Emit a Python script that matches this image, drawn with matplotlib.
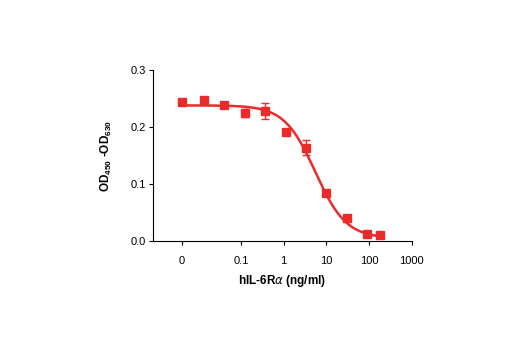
import numpy as np
import matplotlib
matplotlib.use("Agg")
import matplotlib.pyplot as plt

plt.rcParams['font.family'] = ['Liberation Sans Narrow', 'Liberation Sans', 'DejaVu Sans']

# data; 0 ng/ml is plotted at the "0" tick of the log axis
zero_pos = 0.0042
conc = [0, 0.0137, 0.041, 0.123, 0.37, 1.11, 3.33, 10, 30, 90, 180]
od = [0.244, 0.248, 0.238, 0.224, 0.228, 0.192, 0.164, 0.084, 0.040, 0.013, 0.011]
err = [0.005, 0.005, 0.002, 0.007, 0.014, 0.005, 0.013, 0.003, 0.006, 0.002, 0.002]

# four parameter logistic fit
top, bottom, ec50, hill = 0.238, 0.005, 5.5, 1.2

xticks = [zero_pos, 0.1, 1, 10, 100, 1000]
xticklabels = ["0", "0.1", "1", "10", "100", "1000"]
yticks = [0.0, 0.1, 0.2, 0.3]

red = "#ec2a2a"

fig = plt.figure(figsize=(5.2, 3.5), dpi=100)
ax = fig.add_axes([0.294, 0.311, 0.498, 0.489])

x = np.array([zero_pos if c == 0 else c for c in conc])
xs = np.logspace(np.log10(zero_pos), np.log10(conc[-1]), 300)
ys = bottom + (top - bottom) / (1 + (xs / ec50) ** hill)
ax.plot(xs, ys, color=red, lw=1.8, zorder=2)
ax.errorbar(x, od, yerr=err, fmt="s", color=red, ms=5.5, capsize=3,
            elinewidth=1, capthick=1, zorder=3)

ax.set_xscale("log")
ax.set_xlim(0.00087, 1000)
ax.set_ylim(0, 0.3)
ax.set_xticks(xticks)
ax.set_xticklabels(xticklabels)
ax.minorticks_off()
ax.set_yticks(yticks)
ax.set_yticklabels(["0.0", "0.1", "0.2", "0.3"])
ax.tick_params(labelsize=8, length=3, width=0.8, pad=8)
ax.tick_params(axis="y", pad=2)
for s in ["top", "right"]:
    ax.spines[s].set_visible(False)
for s in ["left", "bottom"]:
    ax.spines[s].set_linewidth(0.8)

ax.set_xlabel(r"hIL-6R$\alpha$ (ng/ml)", fontsize=8.5, fontweight="bold", labelpad=5)
ax.set_ylabel(r"OD$_{\mathregular{450}}$ -OD$_{\mathregular{630}}$", fontsize=8.5,
              fontweight="bold", labelpad=12)

fig.savefig("out.png", dpi=100)
